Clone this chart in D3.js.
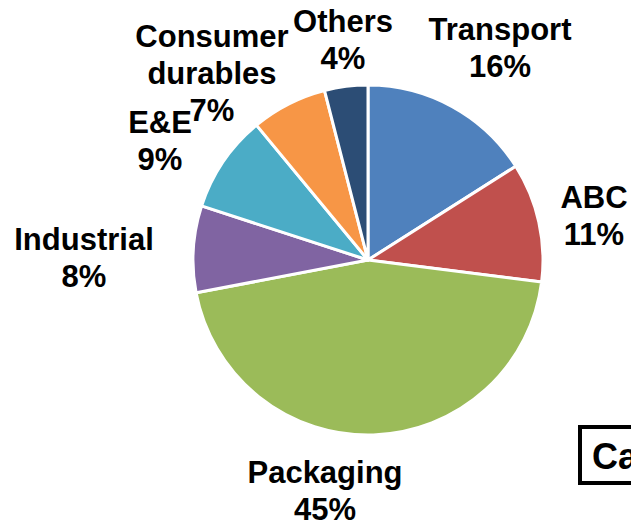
<!DOCTYPE html>
<html>
<head>
  <meta charset="utf-8">
  <script src="https://d3js.org/d3.v7.min.js"></script>
  <style>
  body { margin: 0; background: #fff; }
  text { font-family: "Liberation Sans", Arial, sans-serif; font-weight: bold; }
  </style>
</head>
<body>
<div id="chart"></div>
<script>
// segments, clockwise from 12 o'clock
var categories = ["Transport", "ABC", "Packaging", "Industrial", "E&E", "Consumer durables", "Others"];
var shares = [16, 11, 45, 8, 9, 7, 4];
var labelLines = [["Transport"], ["ABC"], ["Packaging"], ["Industrial"], ["E&E"], ["Consumer", "durables"], ["Others"]];
var colors = ["#4F81BD", "#C0504D", "#9BBB59", "#8064A2", "#4BACC6", "#F79646", "#2C4D75"];

var WIDTH = 631, HEIGHT = 523;
var CX = 368, CY = 260, RADIUS = 175;
var LINE = 37;
// label anchor (centre x, first baseline)
var labelPos = [[500, 40], [594, 208], [325, 483], [84, 250], [160, 133], [212, 47], [343, 32]];

var svg = d3.select("#chart").append("svg")
  .attr("width", WIDTH)
  .attr("height", HEIGHT);

var pie = d3.pie().sort(null).value(function(d) { return d; });
var arc = d3.arc().innerRadius(0).outerRadius(RADIUS);

var g = svg.append("g").attr("transform", "translate(" + CX + "," + CY + ")");
g.selectAll("path")
  .data(pie(shares))
  .enter().append("path")
  .attr("d", arc)
  .attr("fill", function(d, i) { return colors[i]; })
  .attr("stroke", "#fff")
  .attr("stroke-width", 3)
  .attr("stroke-linejoin", "round");

// labels
categories.forEach(function(c, i) {
  var lines = labelLines[i].concat([shares[i] + "%"]);
  var t = svg.append("text")
    .attr("text-anchor", "middle")
    .attr("font-size", 31)
    .attr("fill", "#000");
  lines.forEach(function(l, j) {
    t.append("tspan")
      .attr("x", labelPos[i][0])
      .attr("y", labelPos[i][1] + j * LINE)
      .text(l);
  });
});

// cut-off box at bottom right
svg.append("rect")
  .attr("x", 580).attr("y", 427)
  .attr("width", 80).attr("height", 56)
  .attr("fill", "#fff")
  .attr("stroke", "#000")
  .attr("stroke-width", 4);
svg.append("text")
  .attr("x", 592).attr("y", 469)
  .attr("font-size", 36)
  .text("Ca");
</script>
</body>
</html>
